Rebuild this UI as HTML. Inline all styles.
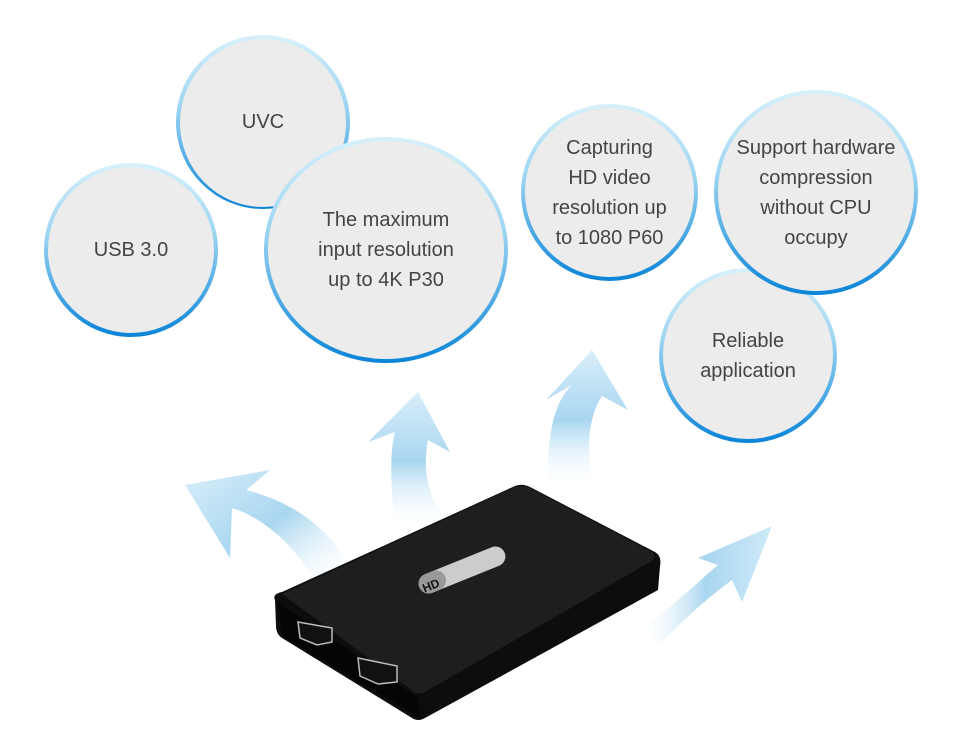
<!DOCTYPE html>
<html><head><style>
body{margin:0;width:962px;height:754px;background:#fff;position:relative;overflow:hidden;font-family:"Liberation Sans",sans-serif}
.c{position:absolute;border-radius:50%;background:linear-gradient(#d6f1fb,#9fd6f2 40%,#0a84d8);box-sizing:border-box;padding:4px}
.c div{width:100%;height:100%;border-radius:50%;background:#ececec;display:flex;align-items:center;justify-content:center;text-align:center;color:#444;font-size:20px;line-height:30px}
svg{position:absolute;left:0;top:0}
</style></head><body>
<svg width="962" height="754">
<defs>
<linearGradient id="a" x1="0" y1="1" x2="0" y2="0"><stop offset="0" stop-color="#fff" stop-opacity="0"/><stop offset=".5" stop-color="#a9d6f0"/><stop offset="1" stop-color="#d8eefa"/></linearGradient>
<linearGradient id="b" x1="0" y1="0" x2="1" y2="0"><stop offset="0" stop-color="#fff" stop-opacity="0"/><stop offset=".5" stop-color="#a9d6f0"/><stop offset="1" stop-color="#d0eaf8"/></linearGradient>
<linearGradient id="l" x1="1" y1="1" x2="0" y2="0"><stop offset="0" stop-color="#fff" stop-opacity="0"/><stop offset=".5" stop-color="#a9d6f0"/><stop offset="1" stop-color="#d8eefa"/></linearGradient>
</defs>
<path d="M395,530 C390,480 390,450 395,432 L368,442 L418,392 L450,452 L428,440 C422,470 428,500 450,525 Z" fill="url(#a)"/>
<path d="M548,490 C546,430 556,400 572,385 L546,400 L592,350 L628,410 L602,396 C586,420 586,460 596,490 Z" fill="url(#a)"/>
<path d="M318,585 C288,535 255,515 232,508 L230,558 L185,485 L270,470 L246,490 C292,502 325,525 350,565 Z" fill="url(#l)"/>
<path d="M638,632 C680,600 700,580 718,565 L698,558 L772,526 L742,602 L732,580 C702,602 682,622 662,642 Z" fill="url(#b)"/>
<path d="M275,600 Q272,594 282,592 L515,486 Q522,483 530,487 L655,552 Q662,556 660,566 L658,590 L425,718 Q418,722 412,718 L282,638 Q276,634 276,626 Z" fill="#0d0d0d"/>
<path d="M282,594 L515,487 Q522,484 530,488 L652,552 Q658,556 650,562 L425,692 Q420,695 414,692 Z" fill="#1e1e1e"/>
<path d="M278,602 L418,698 L420,718 L282,636 Z" fill="#050505"/>
<polygon points="298,622 332,628 332,642 317,645 300,638" fill="#111" stroke="#bbb" stroke-width="1.5"/>
<polygon points="358,658 397,666 397,682 378,684 360,676" fill="#111" stroke="#bbb" stroke-width="1.5"/>
<rect x="416" y="560" width="92" height="20" rx="10" fill="#ccc" transform="rotate(-22 462 570)"/>
<rect x="416" y="560" width="28" height="20" rx="10" fill="#999" transform="rotate(-22 462 570)"/>
<text x="422" y="590" font-size="12" font-weight="bold" fill="#111" transform="rotate(-22 430 585)">HD</text>
</svg>
<div class="c" style="left:44px;top:163px;width:174px;height:174px"><div>USB 3.0</div></div>
<div class="c" style="left:176px;top:35px;width:174px;height:174px"><div style="padding-bottom:2px">UVC</div></div>
<div class="c" style="left:264px;top:137px;width:244px;height:226px;border-radius:50%"><div>The maximum<br>input resolution<br>up to 4K P30</div></div>
<div class="c" style="left:521px;top:104px;width:177px;height:177px"><div>Capturing<br>HD video<br>resolution up<br>to 1080 P60</div></div>
<div class="c" style="left:659px;top:268px;width:178px;height:175px"><div>Reliable<br>application</div></div>
<div class="c" style="left:714px;top:90px;width:204px;height:205px"><div>Support hardware<br>compression<br>without CPU<br>occupy</div></div>
</body></html>
